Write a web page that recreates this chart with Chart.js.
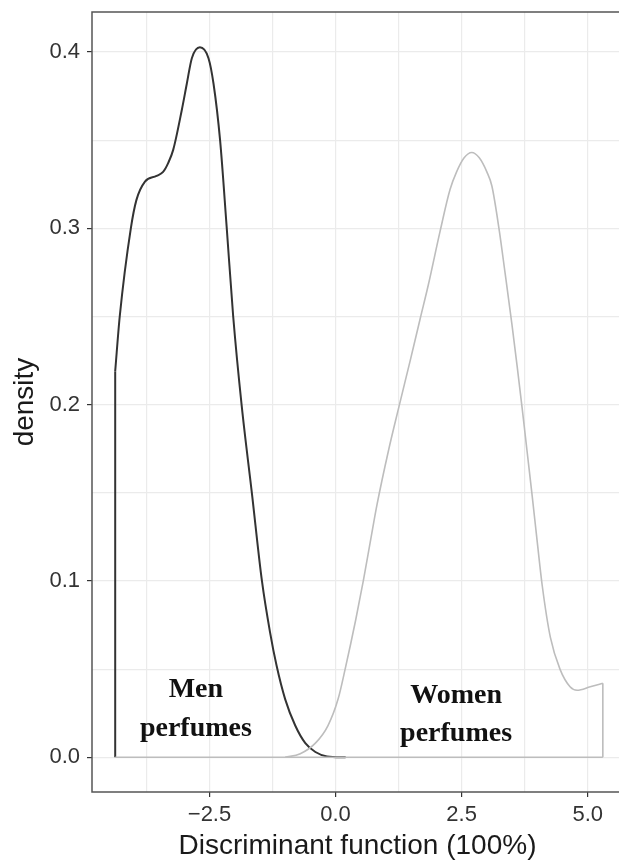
<!DOCTYPE html>
<html>
<head>
<meta charset="utf-8">
<script src="https://cdn.jsdelivr.net/npm/chart.js@4.4.1/dist/chart.umd.min.js"></script>
<style>
  html, body { margin: 0; padding: 0; background: #fff; overflow: hidden; }
  #wrap { width: 630px; height: 865px; }
</style>
</head>
<body>
<div id="wrap"><canvas id="chart" width="630" height="865"></canvas></div>
<script>
// density curves
const menX = [-4.37, -4.28, -4.06, -3.95, -3.78, -3.55, -3.42, -3.32, -3.22, -3.05, -2.95, -2.85, -2.69, -2.52,
              -2.42, -2.29, -2.16, -2.03, -1.86, -1.66, -1.46, -1.30, -1.17, -1.00, -0.80, -0.60, -0.40, -0.17, 0.20];
const menY = [0.219, 0.25, 0.30, 0.316, 0.3265, 0.3297, 0.332, 0.337, 0.3445, 0.367, 0.382, 0.3965, 0.4027, 0.3965,
              0.382, 0.350, 0.301, 0.25, 0.199, 0.15, 0.10, 0.071, 0.052, 0.033, 0.018, 0.008, 0.003, 0.0005, 0];

const womenX = [-1.00, -0.70, -0.40, -0.15, 0.05, 0.19, 0.40, 0.55, 0.70, 0.82, 1.05, 1.25, 1.48, 1.68, 1.84, 2.07,
                2.27, 2.40, 2.55, 2.70, 2.85, 3.00, 3.10, 3.24, 3.36, 3.50, 3.60, 3.70, 3.80, 3.90, 4.00, 4.10,
                4.26, 4.45, 4.65, 4.79, 5.05, 5.30];
const womenY = [0, 0.002, 0.008, 0.018, 0.033, 0.05, 0.078, 0.10, 0.124, 0.143, 0.174, 0.198, 0.225, 0.249, 0.268, 0.298,
                0.322, 0.332, 0.340, 0.343, 0.340, 0.332, 0.324, 0.300, 0.275, 0.245, 0.222, 0.198, 0.173, 0.148, 0.122, 0.097,
                0.068, 0.050, 0.040, 0.038, 0.040, 0.042];

const xTicks = [-3.75, -2.5, -1.25, 0, 1.25, 2.5, 3.75, 5.0];
const xMajor = [-2.5, 0, 2.5, 5.0];
const yTicks = [0, 0.05, 0.1, 0.15, 0.2, 0.25, 0.3, 0.35, 0.4];
const yMajor = [0, 0.1, 0.2, 0.3, 0.4];

const groupLabels = [['Men', 'perfumes'], ['Women', 'perfumes']];

const MEN = '#333333';
const WOMEN = '#bdbdbd';
const GRID = '#ebebeb';

const isIn = (arr, v) => arr.some(a => Math.abs(a - v) < 1e-9);
const pts = (xs, ys) => xs.map((x, i) => ({ x: x, y: ys[i] }));
const fmt = v => (v < 0 ? '\u2212' : '') + Math.abs(v).toFixed(1);

const xLo = menX[0];
const xHi = womenX[womenX.length - 1];

const frame = {
  id: 'frame',
  afterDatasetsDraw(chart) {
    const { ctx, chartArea: a, scales: { x, y } } = chart;
    ctx.save();
    // group labels
    ctx.fillStyle = '#111';
    ctx.font = 'bold 28px "Liberation Serif", "Times New Roman", serif';
    ctx.textAlign = 'center';
    ctx.textBaseline = 'alphabetic';
    const spots = [{ x: -2.77, y: 0.034 }, { x: 2.39, y: 0.031 }];
    groupLabels.forEach((lines, i) => {
      const px = x.getPixelForValue(spots[i].x);
      const py = y.getPixelForValue(spots[i].y);
      lines.forEach((t, j) => ctx.fillText(t, px, py + j * 38.5));
    });
    // panel border
    ctx.strokeStyle = '#555';
    ctx.lineWidth = 1.5;
    ctx.strokeRect(a.left, a.top, a.right - a.left, a.bottom - a.top);
    ctx.restore();
  }
};

new Chart(document.getElementById('chart'), {
  type: 'line',
  data: {
    datasets: [
      { data: pts(menX, menY), borderColor: MEN, borderWidth: 2, order: 2, cubicInterpolationMode: 'monotone' },
      { data: [{ x: xLo, y: 0 }, { x: xLo, y: menY[0] }], borderColor: MEN, borderWidth: 2, order: 2 },
      { data: pts(womenX, womenY), borderColor: WOMEN, borderWidth: 1.6, order: 1, cubicInterpolationMode: 'monotone' },
      { data: [{ x: xHi, y: 0 }, { x: xHi, y: womenY[womenY.length - 1] }], borderColor: WOMEN, borderWidth: 1.6, order: 1 },
      { data: [{ x: xLo, y: 0 }, { x: xHi, y: 0 }], borderColor: WOMEN, borderWidth: 1.6, order: 0 }
    ]
  },
  options: {
    responsive: false,
    devicePixelRatio: 1,
    animation: false,
    layout: { padding: { top: 12, right: 7, left: 0, bottom: 0 } },
    elements: { point: { radius: 0 }, line: { tension: 0, fill: false } },
    plugins: { legend: { display: false }, tooltip: { enabled: false } },
    scales: {
      x: {
        type: 'linear',
        min: -4.83,
        max: 5.70,
        afterBuildTicks: s => { s.ticks = xTicks.map(v => ({ value: v })); },
        afterFit: s => { s.height = 73; s.paddingLeft = 0; s.paddingRight = 0; },
        border: { display: false },
        grid: {
          color: GRID,
          lineWidth: 1.2,
          tickLength: 5,
          tickWidth: 1.2,
          tickColor: c => (c.tick && isIn(xMajor, c.tick.value)) ? '#333' : 'rgba(0,0,0,0)'
        },
        ticks: {
          autoSkip: false,
          maxRotation: 0,
          padding: 5,
          color: '#333',
          font: { family: '"Liberation Sans", Arial, sans-serif', size: 22 },
          callback: v => isIn(xMajor, v) ? fmt(v) : ''
        },
        title: {
          display: true,
          text: 'Discriminant function (100%)',
          color: '#1a1a1a',
          font: { family: '"Liberation Sans", Arial, sans-serif', size: 28 },
          padding: { top: 0, bottom: 2 }
        }
      },
      y: {
        type: 'linear',
        min: -0.0197,
        max: 0.4227,
        afterBuildTicks: s => { s.ticks = yTicks.map(v => ({ value: v })); },
        afterFit: s => { s.width = 92; s.paddingTop = 0; s.paddingBottom = 0; },
        border: { display: false },
        grid: {
          color: GRID,
          lineWidth: 1.2,
          tickLength: 5,
          tickWidth: 1.2,
          tickColor: c => (c.tick && isIn(yMajor, c.tick.value)) ? '#333' : 'rgba(0,0,0,0)'
        },
        ticks: {
          autoSkip: false,
          padding: 7,
          color: '#333',
          font: { family: '"Liberation Sans", Arial, sans-serif', size: 22 },
          callback: v => isIn(yMajor, v) ? fmt(v) : ''
        },
        title: {
          display: true,
          text: 'density',
          color: '#1a1a1a',
          font: { family: '"Liberation Sans", Arial, sans-serif', size: 28 },
          padding: { top: 8, bottom: 0 }
        }
      }
    }
  },
  plugins: [frame]
});
</script>
</body>
</html>
